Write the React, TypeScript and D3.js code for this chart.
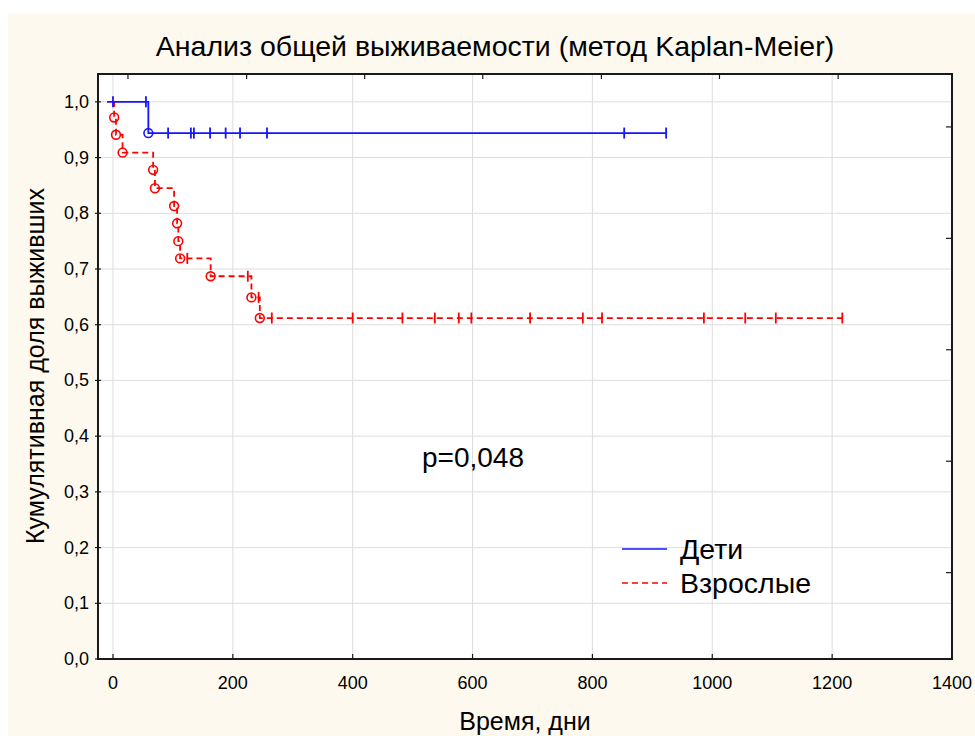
import React from "react";
import * as d3 from "d3";

// Дети: events and censored times
const childEventTimes = [59];
const childEventSurv = [0.944];
const childCensored = [0, 55, 92, 130, 135, 162, 188, 212, 257, 853, 923];

// Взрослые
const adultEventTimes = [2, 5, 16, 67, 70, 102, 107, 109, 112, 163, 231, 245];
const adultEventSurv = [0.972, 0.941, 0.909, 0.878, 0.845, 0.813, 0.782, 0.75, 0.719, 0.687, 0.649, 0.612];
const adultCensored = [124, 225, 243, 265, 400, 483, 537, 577, 598, 696, 784, 816, 986, 1055, 1106, 1217];

const xTicks = [0, 200, 400, 600, 800, 1000, 1200, 1400];
const yTicks = [0, 0.1, 0.2, 0.3, 0.4, 0.5, 0.6, 0.7, 0.8, 0.9, 1.0];
const topTicks = [25, 223, 420, 617, 815, 1012, 1210];
const rightTicks = [0.155, 0.355, 0.555, 0.755, 0.955];

const W = 975;
const H = 736;

const x = d3.scaleLinear().domain([-25, 1400]).range([98, 952]);
const y = d3.scaleLinear().domain([0, 1.05]).range([659, 74]);

// survival value at time t for a step curve
const survAt = (times: number[], surv: number[], t: number) => {
  let s = 1;
  times.forEach((et, i) => {
    if (et <= t) s = surv[i];
  });
  return s;
};

const stepPath = (times: number[], surv: number[], start: number, end: number) => {
  let p = `M${x(start)},${y(1)}`;
  times.forEach((t, i) => {
    p += `H${x(t)}V${y(surv[i])}`;
  });
  p += `H${x(end)}`;
  return p;
};

const fmt = (v: number) => v.toFixed(1).replace(".", ",");

const Curve = ({
  times,
  surv,
  censored,
  color,
  dash,
  start = 0,
}: {
  times: number[];
  surv: number[];
  censored: number[];
  color: string;
  dash?: string;
  start?: number;
}) => {
  const end = d3.max(censored) ?? 0;
  return (
    <g>
      <path
        d={stepPath(times, surv, start, end)}
        fill="none"
        stroke={color}
        strokeWidth={1.8}
        strokeDasharray={dash}
      />
      {censored.map((t, i) => {
        const s = survAt(times, surv, t);
        return (
          <line
            key={"c" + i}
            x1={x(t)}
            x2={x(t)}
            y1={y(s) - 5.5}
            y2={y(s) + 5.5}
            stroke={color}
            strokeWidth={1.8}
          />
        );
      })}
      {times.map((t, i) => (
        <circle
          key={"e" + i}
          cx={x(t)}
          cy={y(surv[i])}
          r={4.4}
          fill="none"
          stroke={color}
          strokeWidth={1.6}
        />
      ))}
    </g>
  );
};

export default function App() {
  const font = "'Liberation Sans', Arial, sans-serif";
  return (
    <svg
      width={W}
      height={H}
      style={{ position: "absolute", left: 0, top: 0 }}
      fontFamily={font}
    >
      <rect x={0} y={0} width={W} height={H} fill="#ffffff" />
      <rect x={8} y={13} width={W - 8} height={H - 13} fill="#fdf9ee" />
      <rect x={98} y={74} width={854} height={585} fill="#ffffff" />

      {/* grid */}
      {xTicks.slice(0, -1).map((t) => (
        <line key={"gx" + t} x1={x(t)} x2={x(t)} y1={74} y2={659} stroke="#dddddd" strokeWidth={1} />
      ))}
      {yTicks.map((t) => (
        <line key={"gy" + t} x1={98} x2={952} y1={y(t)} y2={y(t)} stroke="#dddddd" strokeWidth={1} />
      ))}

      <text x={495} y={56} textAnchor="middle" fontSize={28.5}>
        Анализ общей выживаемости (метод Kaplan-Meier)
      </text>

      <Curve times={adultEventTimes} surv={adultEventSurv} censored={adultCensored} color="#ff0000" dash="6,4" />
      <Curve times={childEventTimes} surv={childEventSurv} censored={childCensored} color="#1515ff" start={-10} />

      {/* frame */}
      <rect x={98} y={74} width={854} height={585} fill="none" stroke="#1a1a1a" strokeWidth={2} />

      {/* ticks */}
      {xTicks.map((t) => (
        <g key={"xt" + t}>
          <line x1={x(t)} x2={x(t)} y1={659} y2={654} stroke="#1a1a1a" strokeWidth={1.2} />
          <text x={x(t)} y={689} textAnchor="middle" fontSize={18}>
            {t}
          </text>
        </g>
      ))}
      {topTicks.map((t) => (
        <line key={"tt" + t} x1={x(t)} x2={x(t)} y1={74} y2={79} stroke="#1a1a1a" strokeWidth={1.2} />
      ))}
      {yTicks.map((t) => (
        <g key={"yt" + t}>
          <line x1={95} x2={101} y1={y(t)} y2={y(t)} stroke="#1a1a1a" strokeWidth={1.2} />
          <text x={89} y={y(t) + 6} textAnchor="end" fontSize={18}>
            {fmt(t)}
          </text>
        </g>
      ))}
      {rightTicks.map((t) => (
        <line key={"rt" + t} x1={946} x2={952} y1={y(t)} y2={y(t)} stroke="#1a1a1a" strokeWidth={1.2} />
      ))}

      <text x={525} y={730} textAnchor="middle" fontSize={25}>
        Время, дни
      </text>
      <text
        transform={`translate(44,366) rotate(-90)`}
        textAnchor="middle"
        fontSize={25}
      >
        Кумулятивная доля выживших
      </text>

      <text x={422} y={467} fontSize={28}>
        p=0,048
      </text>

      {/* legend */}
      <line x1={622} x2={667} y1={549} y2={549} stroke="#1515ff" strokeWidth={1.6} />
      <text x={680} y={559} fontSize={28.5}>
        Дети
      </text>
      <line x1={622} x2={667} y1={583} y2={583} stroke="#ff0000" strokeWidth={1.6} strokeDasharray="6,4" />
      <text x={680} y={593} fontSize={28.5}>
        Взрослые
      </text>
    </svg>
  );
}
